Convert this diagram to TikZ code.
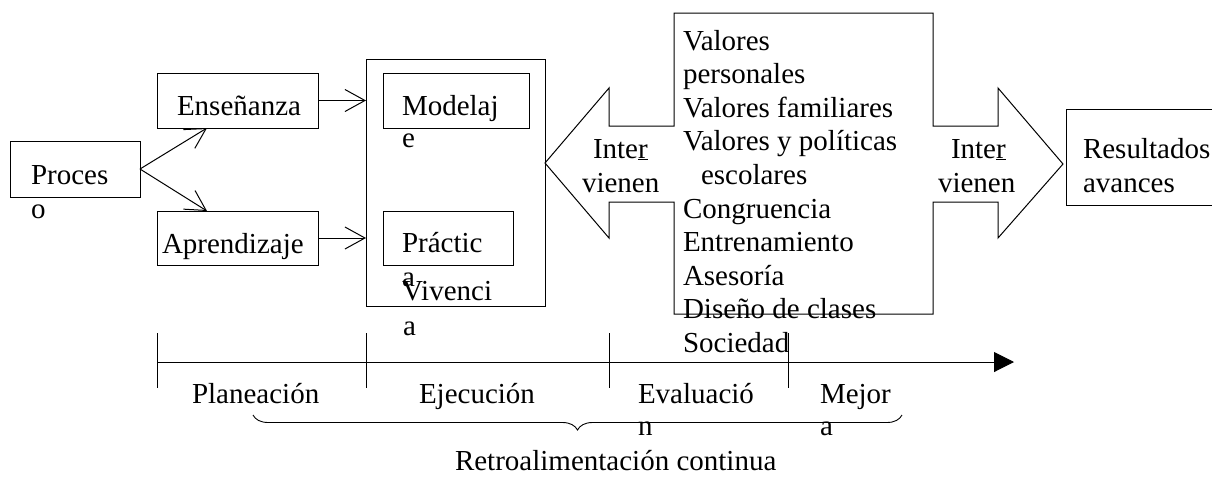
\documentclass[tikz,border=0pt]{standalone}
\usepackage{fontspec}
\setmainfont{Liberation Serif}
\usetikzlibrary{arrows.meta,decorations.pathreplacing,calc}
\begin{document}
\begin{tikzpicture}[x=1pt,y=-1pt,line width=1pt,
  box/.style={draw,inner sep=0pt,outer sep=0pt,anchor=north west},
  txt/.style={anchor=base west,inner sep=0pt,outer sep=0pt,font=\fontsize{29}{33.6}\selectfont},
  barb/.style={-{Straight Barb[length=20pt,width=22pt]}},
  tick/.style={line width=1pt}]
\path[use as bounding box,clip] (0,0) rectangle (1212,483);

% boxes
\node[box,minimum width=130pt,minimum height=56pt] (proc) at (10,141) {};
\node[box,minimum width=161pt,minimum height=55pt] (ens) at (157,73) {};
\node[box,minimum width=161pt,minimum height=54pt] (apr) at (157,211) {};
\node[box,minimum width=179pt,minimum height=247pt] (big) at (366,59) {};
\node[box,minimum width=146pt,minimum height=55pt] (mod) at (383,73) {};
\node[box,minimum width=130pt,minimum height=54pt] (pra) at (383,211) {};
\node[box,minimum width=170pt,minimum height=96pt] (res) at (1066,109) {};

% central box with two block arrows
\draw (674,13) -- (933,13) -- (933,126) -- (998,126) -- (998,88) -- (1063,164)
  -- (998,238) -- (998,202) -- (933,202) -- (933,314) -- (674,314) -- (674,202)
  -- (609,202) -- (609,238) -- (545,163) -- (609,88) -- (609,126) -- (674,126) -- cycle;

% connectors
\draw[barb] (proc.east) -- ([xshift=50pt]ens.south west);
\draw[barb] (proc.east) -- ([xshift=50pt]apr.north west);
\draw[barb] (ens.east) -- (ens.east -| big.west);
\draw[barb] (apr.east) -- (apr.east -| big.west);

% texts
\node[txt] (tproc1) at (31,184) {Proces};
\node[txt] (tproc2) at (31,218) {o};
\node[txt] (tens) at (177,115) {Enseñanza};
\node[txt] (tapr) at (162,253) {Aprendizaje};
\node[txt] (tmod1) at (402,115) {Modelaj};
\node[txt] (tmod2) at (402,147) {e};
\node[txt] (tpra1) at (402,252) {Práctic};
\node[txt] (tpra2) at (402,286) {a};
\node[txt] (tviv1) at (402,300) {Vivenci};
\node[txt] (tviv2) at (403,335) {a};

\node[txt] (c1) at (683,50) {Valores};
\node[txt] (c2) at (683,83.6) {personales};
\node[txt] (c3) at (683,117.2) {Valores familiares};
\node[txt] (c4) at (683,150.8) {Valores y políticas};
\node[txt] (c5) at (701,184.4) {escolares};
\node[txt] (c6) at (683,218) {Congruencia};
\node[txt] (c7) at (683,251.6) {Entrenamiento};
\node[txt] (c8) at (683,285.2) {Asesoría};
\node[txt] (c9) at (683,318.8) {Diseño de clases};
\node[txt] (c10) at (683,352.4) {Sociedad};

\node[txt] (li1) at (593,158) {Inte\underline{r}};
\node[txt] (li2) at (582,192) {vienen};
\node[txt] (ri1) at (951,158) {Inte\underline{r}};
\node[txt] (ri2) at (938,192) {vienen};

\node[txt] (tres1) at (1083,158) {Resultados};
\node[txt] (tres2) at (1083,192) {avances};

% timeline
\coordinate (t0) at (157,362);
\coordinate (tend) at (1014,362);
\draw[-{Triangle[length=20pt,width=20pt]}] (t0) -- (tend);
\foreach \x in {157,366,609,788} \draw[tick] (\x,333) -- (\x,388);

\node[txt] (pl) at (192,403) {Planeación};
\node[txt] (ej) at (419,403) {Ejecución};
\node[txt] (ev1) at (638,403) {Evaluació};
\node[txt] (ev2) at (638,435) {n};
\node[txt] (me1) at (820,403) {Mejor};
\node[txt] (me2) at (820,435) {a};

% brace
\coordinate (bl) at (253,415);
\coordinate (br) at (902,415);
\draw[line width=0.9pt,decorate,decoration={brace,amplitude=15pt,mirror}] (bl) -- (br);
\node[txt] (retro) at (455,470) {Retroalimentación continua};
\end{tikzpicture}
\end{document}
